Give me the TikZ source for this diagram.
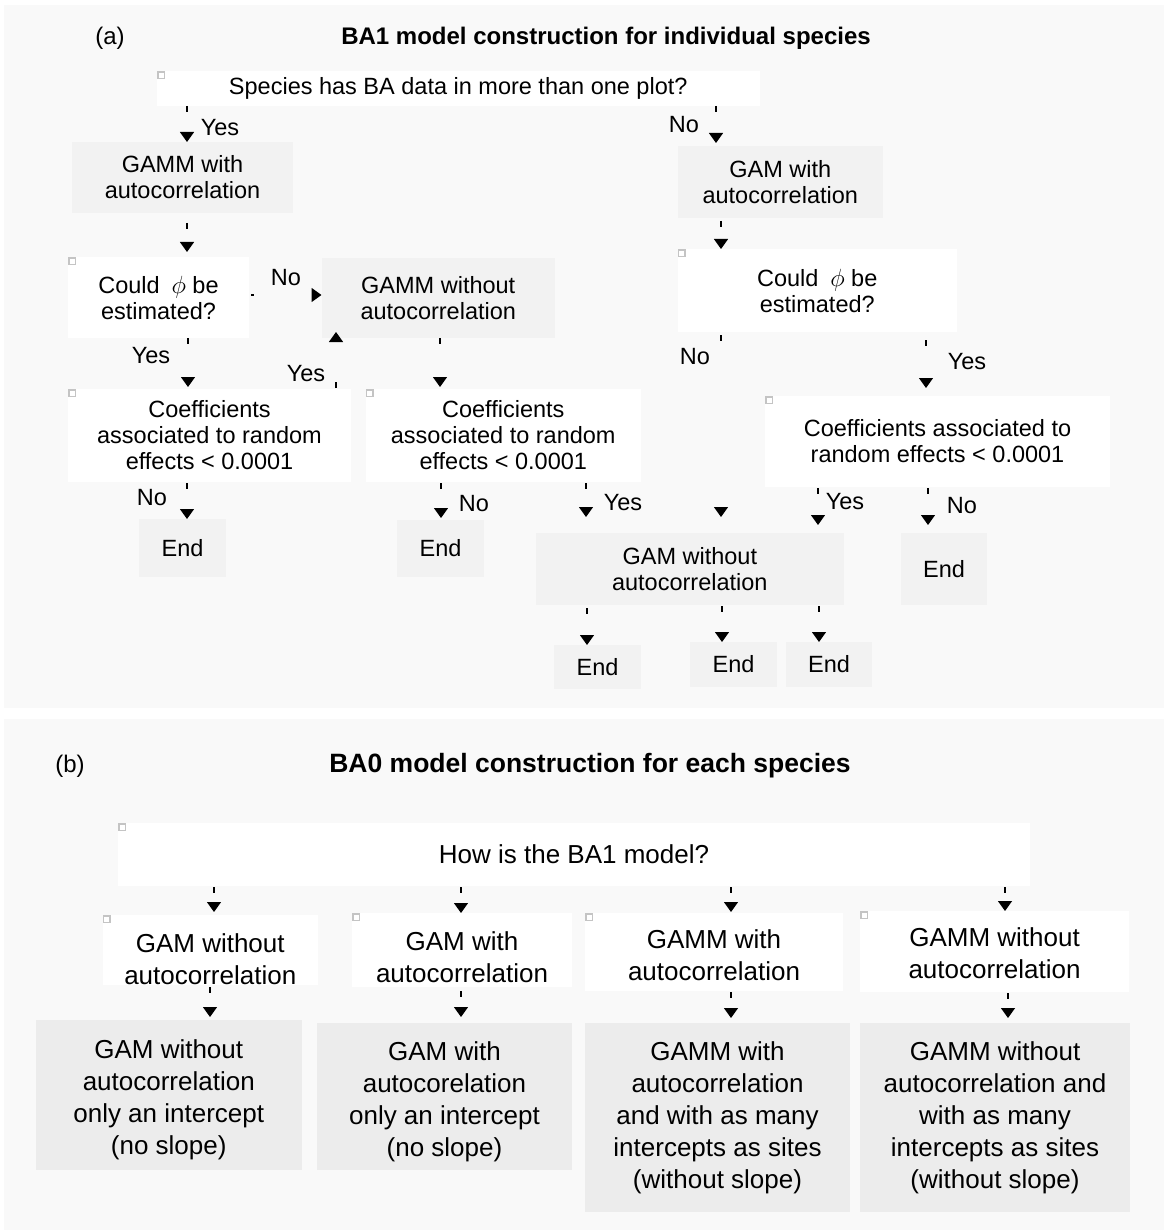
\documentclass[tikz,border=0pt]{standalone}
\usepackage{fontspec}
\setmainfont{Liberation Sans}
\usetikzlibrary{arrows.meta}
\definecolor{panelbg}{HTML}{F9F9F9}
\definecolor{procfill}{HTML}{F2F2F2}
\definecolor{resfill}{HTML}{ECECEC}
\definecolor{markgrey}{HTML}{C4C4C4}
\newcommand\myfa{\fontsize{23.5}{26}\selectfont}
\newcommand\myfb{\fontsize{26}{32}\selectfont}
\newcommand\mystrut[1]{\rule{0pt}{#1pt}}
\begin{document}
\begin{tikzpicture}[x=1pt,y=-1pt,
  base/.style={inner sep=0pt, outer sep=0pt, align=center},
  wbox/.style={base, fill=white},
  gbox/.style={base, fill=procfill},
  rbox/.style={base, fill=resfill},
  fa/.style={font=\myfa},
  fb/.style={font=\myfb},
  conn/.style={line width=1.3pt, dash pattern=on 6pt off 3000pt,
    -{Triangle[width=14pt,length=10pt]}},
  lbl/.style={inner sep=0pt, font=\myfa},
  marker/.style={draw=markgrey, line width=1.5pt, fill=white}]

\useasboundingbox (0,0) rectangle (1164,1230);
\fill[white] (0,0) rectangle (1164,1230);
\fill[panelbg] (4,5) rectangle (1164,708);
\fill[panelbg] (4,719) rectangle (1164,1230);

% ---------------- panel (a) ----------------
\node[lbl, font=\fontsize{24}{28}\selectfont] (pa) at (110,38) {(a)};
\node[lbl, font=\bfseries\fontsize{24}{28}\selectfont] (ta) at (606,38.5)
  {BA1 model construction for individual species};

\node[wbox, fa, minimum width=602.5pt, minimum height=35pt] (q1) at (458.25,88.5)
  {Species has BA data in more than one plot?};
\node[gbox, fa, minimum width=221pt, minimum height=71pt] (gamm1) at (182.5,177.5)
  {GAMM with\\autocorrelation};
\node[wbox, fa, minimum width=181pt, minimum height=81pt] (could1) at (158.5,297.5)
  {Could\enspace$\phi$ be\\estimated?};
\node[gbox, fa, minimum width=233.5pt, minimum height=80pt] (gammno) at (438.25,298)
  {GAMM without\\autocorrelation};
\node[wbox, fa, minimum width=283pt, minimum height=93pt] (coef1) at (209.5,435.5)
  {Coefficients\\associated to random\\effects < 0.0001};
\node[wbox, fa, minimum width=275.5pt, minimum height=93pt] (coef2) at (503.25,435.5)
  {Coefficients\\associated to random\\effects < 0.0001};
\node[gbox, fa, minimum width=87pt, minimum height=58pt] (end1) at (182.5,548) {End};
\node[gbox, fa, minimum width=87pt, minimum height=57pt] (end2) at (440.5,548.5) {End};
\node[gbox, fa, minimum width=308.4pt, minimum height=72pt] (gamno) at (689.8,569)
  {GAM without\\autocorrelation};
\node[gbox, fa, minimum width=86pt, minimum height=72pt] (endr) at (944,569) {End};
\node[gbox, fa, minimum width=87pt, minimum height=44pt] (enda) at (597.5,667) {End};
\node[gbox, fa, minimum width=87pt, minimum height=45pt] (endb) at (733.5,664.5) {End};
\node[gbox, fa, minimum width=86pt, minimum height=45pt] (endc) at (829,664.5) {End};
\node[gbox, fa, minimum width=205.5pt, minimum height=72pt] (gamw) at (780.25,182)
  {GAM with\\autocorrelation};
\node[wbox, fa, minimum width=279.5pt, minimum height=83pt] (could2) at (817.25,290.5)
  {Could\enspace$\phi$ be\\estimated?};
\node[wbox, fa, minimum width=345pt, minimum height=91pt] (coef3) at (937.5,441.5)
  {Coefficients associated to\\random effects < 0.0001};

% ---------------- panel (b) ----------------
\node[lbl, font=\fontsize{24}{28}\selectfont] (pb) at (70,766) {(b)};
\node[lbl, font=\bfseries\fontsize{26.5}{30}\selectfont] (tb) at (590,766)
  {BA0 model construction for each species};

\node[wbox, fb, minimum width=912pt, minimum height=63pt] (qb) at (574,854.5)
  {How is the BA1 model?};
\node[wbox, fb, minimum width=215.5pt, minimum height=70pt] (b1) at (210.25,950)
  {\mystrut{37}GAM without\\autocorrelation};
\node[wbox, fb, minimum width=220pt, minimum height=74pt] (b2) at (462,950)
  {\mystrut{34}GAM with\\autocorrelation};
\node[wbox, fb, minimum width=258pt, minimum height=78pt] (b3) at (714,952)
  {\mystrut{25}GAMM with\\autocorrelation};
\node[wbox, fb, minimum width=269pt, minimum height=81pt] (b4) at (994.5,951.5)
  {\mystrut{23}GAMM without\\autocorrelation};
\node[rbox, fb, minimum width=265.5pt, minimum height=150pt] (c1) at (168.75,1095)
  {\mystrut{29}GAM without\\autocorrelation\\only an intercept\\(no slope)};
\node[rbox, fb, minimum width=255pt, minimum height=147pt] (c2) at (444.5,1096.5)
  {\mystrut{29}GAM with\\autocorelation\\only an intercept\\(no slope)};
\node[rbox, fb, minimum width=265pt, minimum height=189pt] (c3) at (717.5,1117.5)
  {GAMM with\\autocorrelation\\and with as many\\intercepts as sites\\(without slope)};
\node[rbox, fb, minimum width=270pt, minimum height=189pt] (c4) at (995,1117.5)
  {GAMM without\\autocorrelation and\\with as many\\intercepts as sites\\(without slope)};

% small corner markers on the white boxes
\foreach \n in {q1,could1,coef1,coef2,could2,coef3,qb,b1,b2,b3,b4}
  \draw[marker] ([shift={(1,1)}]\n.north west) rectangle ([shift={(7.5,7.5)}]\n.north west);

% ---------------- connectors (a) ----------------
\draw[conn] (q1.south -| 187,0) -- (gamm1.north -| 187,0);
\draw[conn, shorten >=3pt] (q1.south -| 716,0) -- (gamw.north -| 716,0);
\draw[conn, shorten <=10pt, shorten >=5pt] (gamm1.south -| 187,0) -- (could1.north -| 187,0);
\draw[conn, shorten <=2pt, dash pattern=on 2.5pt off 3000pt] (could1.east |- 0,295) -- (gammno.west |- 0,295);
\draw[conn, shorten >=2pt] (could1.south -| 188,0) -- (coef1.north -| 188,0);
\draw[conn, shorten <=1pt, shorten >=-6pt] (coef1.north -| 336,0) -- (gammno.south -| 336,0);
\draw[conn, shorten >=2pt] (gammno.south -| 440,0) -- (coef2.north -| 440,0);
\draw[conn, shorten <=1pt] (coef1.south -| 187,0) -- (end1.north -| 187,0);
\draw[conn, shorten <=1pt, shorten >=2pt] (coef2.south -| 441,0) -- (end2.north -| 441,0);
\draw[conn, shorten <=1pt, shorten >=16pt] (coef2.south -| 586,0) -- (gamno.north -| 586,0);
\draw[conn, shorten <=3pt, shorten >=16pt] (could2.south -| 721,0) -- (gamno.north -| 721,0);
\draw[conn, shorten <=1pt, shorten >=8pt] (coef3.south -| 818,0) -- (gamno.north -| 818,0);
\draw[conn, shorten <=1pt, shorten >=8pt] (coef3.south -| 928,0) -- (endr.north -| 928,0);
\draw[conn, shorten <=3pt] (gamw.south -| 721,0) -- (could2.north -| 721,0);
\draw[conn, shorten <=8pt, shorten >=8pt] (could2.south -| 926,0) -- (coef3.north -| 926,0);
\draw[conn, shorten <=3pt] (gamno.south -| 587,0) -- (enda.north -| 587,0);
\draw[conn, shorten <=1pt] (gamno.south -| 722,0) -- (endb.north -| 722,0);
\draw[conn, shorten <=1pt] (gamno.south -| 819,0) -- (endc.north -| 819,0);

\node[lbl] (l1) at (220,127.5) {Yes};
\node[lbl] (l2) at (684,125) {No};
\node[lbl] (l3) at (286,278) {No};
\node[lbl] (l4) at (151,356) {Yes};
\node[lbl] (l5) at (306,374) {Yes};
\node[lbl] (l6) at (152,498) {No};
\node[lbl] (l7) at (474,504) {No};
\node[lbl] (l8) at (623,503) {Yes};
\node[lbl] (l9) at (695,357) {No};
\node[lbl] (l10) at (845,502) {Yes};
\node[lbl] (l11) at (962,506) {No};
\node[lbl] (l12) at (967,362) {Yes};

% ---------------- connectors (b) ----------------
\draw[conn, shorten <=1pt, shorten >=3pt] (qb.south -| 214,0) -- (b1.north -| 214,0);
\draw[conn, shorten <=1pt] (qb.south -| 461,0) -- (b2.north -| 461,0);
\draw[conn, shorten <=1pt, shorten >=1pt] (qb.south -| 731,0) -- (b3.north -| 731,0);
\draw[conn, shorten <=1pt] (qb.south -| 1005,0) -- (b4.north -| 1005,0);
\draw[conn, shorten <=2pt, shorten >=3pt] (b1.south -| 210,0) -- (c1.north -| 210,0);
\draw[conn, shorten <=4pt, shorten >=6pt] (b2.south -| 461,0) -- (c2.north -| 461,0);
\draw[conn, shorten <=1pt, shorten >=5pt] (b3.south -| 731,0) -- (c3.north -| 731,0);
\draw[conn, shorten <=1pt, shorten >=5pt] (b4.south -| 1008,0) -- (c4.north -| 1008,0);
\end{tikzpicture}
\end{document}
